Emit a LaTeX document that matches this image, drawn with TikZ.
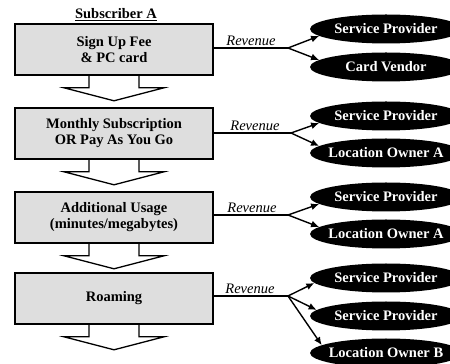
\documentclass[tikz,border=0pt]{standalone}
\usepackage{fontspec}
\setmainfont{Liberation Serif}
\usetikzlibrary{arrows.meta,shapes.geometric}
\definecolor{boxgray}{RGB}{222,222,222}
\begin{document}
\begin{tikzpicture}[x=1pt,y=1pt,
  font=\fontsize{14.5}{16}\selectfont\bfseries,
  stage/.style={draw, line width=1.6pt, fill=boxgray, minimum width=198pt,
    minimum height=51pt, inner sep=0pt, align=center},
  party/.style={ellipse, fill=black, text=white, minimum width=152pt,
    minimum height=29pt, inner xsep=-30pt, inner ysep=0pt},
  flow/.style={draw, line width=1.3pt, line join=miter},
  revline/.style={line width=1.4pt},
  pay/.style={line width=1.4pt, -{Latex[length=8pt,width=7pt]}},
  revlabel/.style={font=\fontsize{14.5}{16}\selectfont\mdseries\itshape,
    anchor=base, inner sep=0pt},
]
\useasboundingbox (0,0) rectangle (450,364);
\clip (0,0) rectangle (450,364);

% heading
\node[anchor=base, inner sep=0pt] (title) at (116,345) {\underline{Subscriber A}};

% payment stages
\node[stage] (b1) at (114,314.5) {Sign Up Fee\\\& PC card};
\node[stage] (b2) at (114,230.5) {Monthly Subscription\\OR Pay As You Go};
\node[stage] (b3) at (114,146.5) {Additional Usage\\(minutes/megabytes)};
\node[stage] (b4) at (114,65.5) {Roaming};

% block arrows below each stage
\foreach \b in {b1,b2,b3,b4}
  \draw[flow] ([xshift=-25pt]\b.south) -- ++(0,-12) -- ++(-25,0)
    -- ++(50,-13) -- ++(50,13) -- ++(-25,0) -- ++(0,12);

% revenue recipients
\node[party] (p11) at (386,335) {Service Provider};
\node[party] (p12) at (386,297) {Card Vendor};
\node[party] (p21) at (386,248) {Service Provider};
\node[party] (p22) at (386,211) {Location Owner A};
\node[party] (p31) at (386,167) {Service Provider};
\node[party] (p32) at (386,130) {Location Owner A};
\node[party] (p41) at (386,86) {Service Provider};
\node[party] (p42) at (386,48) {Service Provider};
\node[party] (p43) at (386,11) {Location Owner B};

% revenue lines and branches
\coordinate (j1) at (288,316);
\coordinate (j2) at (291,231);
\coordinate (j3) at (288,149);
\coordinate (j4) at (288,68);

\draw[revline] (b1.east |- j1) -- (j1);
\draw[revline] (b2.east |- j2) -- (j2);
\draw[revline] (b3.east |- j3) -- (j3);
\draw[revline] (b4.east |- j4) -- (j4);

\node[revlabel] (r1) at (251,318) {Revenue};
\node[revlabel] (r2) at (255,233) {Revenue};
\node[revlabel] (r3) at (252,151) {Revenue};
\node[revlabel] (r4) at (250,70) {Revenue};

\draw[pay] (j1) -- (p11.186);
\draw[pay] (j1) -- (p12.174);
\draw[pay] (j2) -- (p21.186);
\draw[pay] (j2) -- (p22.174);
\draw[pay] (j3) -- (p31.186);
\draw[pay] (j3) -- (p32.174);
\draw[pay] (j4) -- (p41.184);
\draw[pay] (j4) -- (p42.175);
\draw[pay] (j4) -- (p43.173);
\end{tikzpicture}
\end{document}
